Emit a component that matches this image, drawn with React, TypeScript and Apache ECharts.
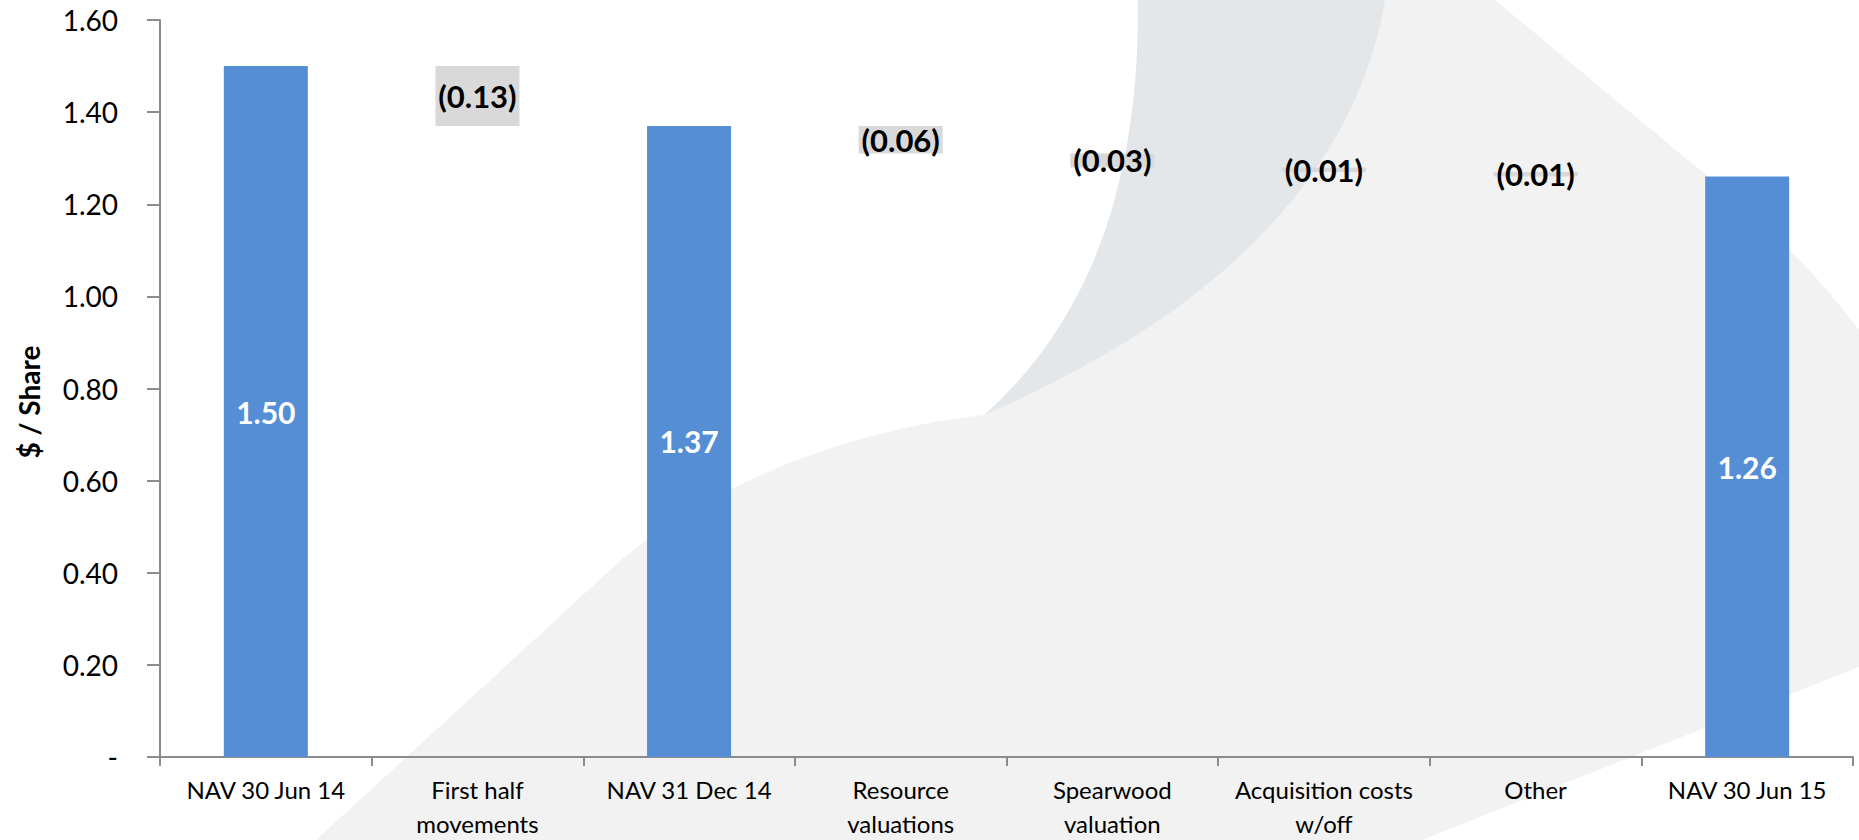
import React, { useEffect, useRef } from "react";
import * as echarts from "echarts";

const categories = [
  "NAV 30 Jun 14",
  "First half\nmovements",
  "NAV 31 Dec 14",
  "Resource\nvaluations",
  "Spearwood\nvaluation",
  "Acquisition costs\nw/off",
  "Other",
  "NAV 30 Jun 15",
];
// totals (NAV) and movements
const values = [1.5, -0.13, 1.37, -0.06, -0.03, -0.01, -0.01, 1.26];
const isTotal = [true, false, true, false, false, false, false, true];
const yTicks = [0, 0.2, 0.4, 0.6, 0.8, 1.0, 1.2, 1.4, 1.6];

const lightPath =
  "M 984 415 C 1080 330 1140 200 1138 0 L 1495 0 L 1700 170 Q 1800 250 1859 330 L 1859 667 L 1674 740 L 1422 840 L 316 840 L 425 740 L 621 560 C 720 480 850 430 984 415 Z";
const darkPath =
  "M 984 415 C 1080 330 1140 200 1138 0 L 1385 0 C 1360 150 1250 300 984 415 Z";

echarts.graphic.registerShape("swooshLight", echarts.graphic.extendPath(lightPath, {}));
echarts.graphic.registerShape("swooshDark", echarts.graphic.extendPath(darkPath, {}));

export default function App() {
  const ref = useRef<HTMLDivElement>(null);
  useEffect(() => {
    if (!ref.current) return;
    const chart = echarts.init(ref.current, null, { renderer: "svg" });

    // waterfall: compute invisible base and visible heights
    const base: number[] = [];
    const height: number[] = [];
    let running = 0;
    values.forEach((v, i) => {
      if (isTotal[i]) {
        base.push(0);
        height.push(v);
        running = v;
      } else {
        running = +(running + v).toFixed(2);
        base.push(v < 0 ? running : running - v);
        height.push(Math.abs(v));
      }
    });

    const font = "Lato, 'Open Sans', sans-serif";

    chart.setOption({
      animation: false,
      backgroundColor: "#ffffff",
      textStyle: { fontFamily: font },
      graphic: [
        { type: "swooshLight", x: 0, y: 0, z: -10, silent: true, style: { fill: "#f2f2f2" } },
        { type: "swooshDark", x: 0, y: 0, z: -9, silent: true, style: { fill: "#e4e7ea" } },
        {
          type: "text",
          x: 29,
          y: 402,
          rotation: Math.PI / 2,
          z: 10,
          style: {
            text: "$ / Share",
            fontFamily: font,
            fontWeight: "bold",
            fontSize: 28,
            fill: "#000000",
            align: "center",
            verticalAlign: "middle",
          },
        },
      ],
      grid: { left: 160, right: 6, top: 20, bottom: 82, containLabel: false },
      xAxis: {
        type: "category",
        data: categories,
        axisLine: { show: true, lineStyle: { color: "#8c8c8c", width: 2 } },
        axisTick: { show: true, length: 9, alignWithLabel: false, lineStyle: { color: "#8c8c8c", width: 2 } },
        axisLabel: {
          color: "#000000",
          fontSize: 24,
          fontFamily: font,
          lineHeight: 34,
          margin: 15,
          interval: 0,
        },
      },
      yAxis: {
        type: "value",
        min: 0,
        max: 1.6,
        interval: 0.2,
        splitLine: { show: false },
        axisLine: { show: true, lineStyle: { color: "#8c8c8c", width: 2 } },
        axisTick: { show: true, length: 13, lineStyle: { color: "#8c8c8c", width: 2 } },
        axisLabel: {
          color: "#000000",
          fontSize: 28,
          fontFamily: font,
          margin: 42,
          formatter: (v: number) => {
            const t = yTicks.find((x) => Math.abs(x - v) < 1e-9);
            return t === 0 ? "-" : v.toFixed(2);
          },
        },
      },
      series: [
        {
          type: "bar",
          stack: "wf",
          data: base,
          barWidth: 84,
          itemStyle: { color: "transparent" },
          emphasis: { disabled: true },
          silent: true,
        },
        {
          type: "bar",
          stack: "wf",
          barWidth: 84,
          data: height.map((h, i) => ({
            value: h,
            itemStyle: { color: isTotal[i] ? "#558ed5" : "#d9d9d9" },
            label: isTotal[i]
              ? {
                  show: true,
                  position: "inside",
                  color: "#ffffff",
                  fontWeight: "bold",
                  fontSize: 30,
                  fontFamily: font,
                  formatter: values[i].toFixed(2),
                }
              : {
                  show: true,
                  position: "inside",
                  color: "#000000",
                  fontWeight: "bold",
                  fontSize: 31,
                  fontFamily: font,
                  formatter: "(" + Math.abs(values[i]).toFixed(2) + ")",
                },
          })),
        },
      ],
    });
    return () => chart.dispose();
  }, []);
  return (
    <div
      ref={ref}
      style={{ position: "fixed", left: 0, top: 0, width: 1859, height: 840 }}
    />
  );
}
